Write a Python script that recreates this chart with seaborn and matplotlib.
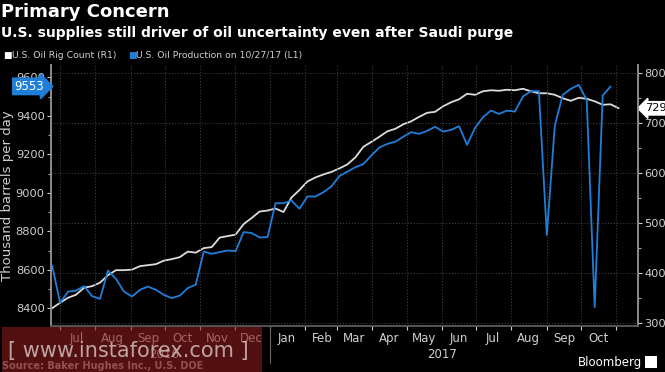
import numpy as np
import pandas as pd
import seaborn as sns
import matplotlib.pyplot as plt
import matplotlib.dates as mdates
import matplotlib.transforms as mtrans
from matplotlib.patches import Rectangle

# datos semanales (viernes)
semanas = pd.date_range('2016-06-24', periods=72, freq='7D')

# U.S. Oil Rig Count (R1)
rigs = [330, 341, 351, 357, 371, 374, 381, 396, 406, 406,
        407, 414, 416, 418, 425, 428, 432, 443, 441, 450,
        452, 471, 474, 477, 498, 510, 523, 525, 529, 522,
        551, 566, 583, 591, 597, 602, 609, 617, 631, 652,
        662, 672, 683, 688, 697, 703, 712, 720, 722, 733,
        741, 747, 758, 756, 763, 765, 764, 766, 765, 768,
        763, 759, 759, 756, 749, 744, 750, 748, 743, 736,
        737, 729]

# U.S. Oil Production (L1), miles de barriles por dia
produccion = [8622, 8428, 8487, 8492, 8515, 8463, 8449, 8596, 8553, 8487,
              8461, 8496, 8513, 8496, 8470, 8453, 8466, 8505, 8523, 8695,
              8683, 8692, 8700, 8697, 8796, 8791, 8768, 8770, 8946, 8946,
              8960, 8917, 8981, 8981, 9003, 9033, 9087, 9110, 9133, 9149,
              9194, 9235, 9254, 9265, 9291, 9315, 9306, 9322, 9343, 9318,
              9327, 9346, 9249, 9337, 9393, 9427, 9410, 9427, 9422, 9500,
              9528, 9528, 8781, 9349, 9509, 9540, 9561, 9483, 8406, 9505,
              9553]

ticks_izq = [8400, 8600, 8800, 9000, 9200, 9400, 9600]
ticks_der = [300, 400, 500, 600, 700, 800]
meses = pd.date_range('2016-07-01', '2017-10-01', freq='MS')

df_rigs = pd.DataFrame({'fecha': semanas, 'rigs': rigs})
df_prod = pd.DataFrame({'fecha': semanas[:len(produccion)], 'prod': produccion})

blanco = '#dcdcdc'
azul = '#1f7fd8'
gris = '#cfcfcf'
grid = '#3c3c3c'

sns.set_theme(style='dark', rc={
    'figure.facecolor': 'black', 'axes.facecolor': 'black',
    'axes.edgecolor': '#8a8a8a', 'text.color': gris,
    'xtick.color': gris, 'ytick.color': gris, 'axes.labelcolor': gris,
})
plt.rcParams['font.family'] = ['DejaVu Sans']

fig = plt.figure(figsize=(6.65, 3.72), dpi=100)
ax = fig.add_axes([51 / 665, 46 / 372, 587 / 665, 261 / 372])
ax2 = ax.twinx()

sns.lineplot(data=df_prod, x='fecha', y='prod', ax=ax, color=azul, linewidth=1.3)
sns.lineplot(data=df_rigs, x='fecha', y='rigs', ax=ax2, color=blanco, linewidth=1.3)

ax.set_ylim(8308, 9664)
ax2.set_ylim(294.6, 815.4)
ax.set_xlim(pd.Timestamp('2016-06-23'), pd.Timestamp('2017-11-20'))

# eje izquierdo
ax.set_yticks(ticks_izq)
ax.set_yticks(np.arange(8400, 9700, 100), minor=True)
ax.tick_params(axis='y', which='major', direction='out', length=3, width=0.8,
               labelsize=8.2, pad=1.5, left=True, colors=gris)
ax.tick_params(axis='y', which='minor', direction='out', length=2, width=0.6, left=True)
ax.set_ylabel('Thousand barrels per day', fontsize=9.5, labelpad=1)
ax.yaxis.grid(False)

# eje derecho
ax2.set_yticks(ticks_der)
ax2.set_yticks(np.arange(300, 850, 50), minor=True)
ax2.tick_params(axis='y', which='major', direction='out', length=3, width=0.8,
                labelsize=8.2, pad=1.5, right=True, colors=gris)
ax2.tick_params(axis='y', which='minor', direction='out', length=2, width=0.6, right=True)
ax2.set_ylabel('')
ax2.yaxis.grid(True, color=grid, linestyle=':', linewidth=0.8)
ax2.set_zorder(ax.get_zorder() - 1)
ax.patch.set_visible(False)

# eje x: marcas al inicio de mes, etiquetas a mitad de mes
ax.xaxis.set_major_locator(mdates.MonthLocator(bymonthday=1))
ax.xaxis.set_major_formatter(plt.NullFormatter())
ax.set_xticks(meses + pd.Timedelta(days=15), minor=True)
ax.xaxis.set_minor_formatter(mdates.DateFormatter('%b'))
ax.tick_params(axis='x', which='major', direction='out', length=3, width=0.8, bottom=True)
ax.tick_params(axis='x', which='minor', length=0, labelsize=8.5, pad=4, colors=gris)
ax.xaxis.grid(True, which='major', color=grid, linestyle=':', linewidth=0.8)
ax.set_xlabel('')

for a in (ax, ax2):
    a.spines['top'].set_visible(False)
    a.spines['bottom'].set_color('#555555')
    a.spines['left'].set_color('#8a8a8a')
    a.spines['right'].set_color('#8a8a8a')

# etiquetas de ano y separador
tr = mtrans.blended_transform_factory(ax.transData, ax.transAxes)
ax.text(pd.Timestamp('2016-09-30'), -0.085, '2016', transform=tr, ha='center',
        va='top', fontsize=8.5, color=gris)
ax.text(pd.Timestamp('2017-06-01'), -0.085, '2017', transform=tr, ha='center',
        va='top', fontsize=8.5, color=gris)
sep = pd.Timestamp('2017-01-01')
ax.plot([sep, sep], [0, -0.14], transform=tr, color='#666666', lw=0.8, clip_on=False)

# etiquetas de ultimo valor
ax.annotate(f'{produccion[-1]}', xy=(0, produccion[-1]),
            xycoords=('axes fraction', 'data'), xytext=(-5, 0),
            textcoords='offset points', ha='right', va='center', fontsize=8.5,
            color='white',
            bbox=dict(boxstyle='rarrow,pad=0.15', fc=azul, ec=azul))
ax2.annotate(f'{rigs[-1]}', xy=(1, rigs[-1]),
             xycoords=('axes fraction', 'data'), xytext=(5, 0),
             textcoords='offset points', ha='left', va='center', fontsize=8.2,
             color='black',
             bbox=dict(boxstyle='larrow,pad=0.15', fc='white', ec='white'))

# titulos y leyenda
fig.text(0.002, 0.968, 'Primary Concern', fontsize=13, fontweight='bold',
         color='white', va='center', ha='left')
fig.text(0.002, 0.911, 'U.S. supplies still driver of oil uncertainty even after Saudi purge',
         fontsize=10, fontweight='bold', color='white', va='center', ha='left')
fig.text(0.005, 0.85, '\u25a0', fontsize=6.5, color='white', va='center')
fig.text(0.018, 0.85, 'U.S. Oil Rig Count (R1)', fontsize=6.7, color=gris, va='center')
fig.text(0.192, 0.85, '\u25a0', fontsize=6.5, color=azul, va='center')
fig.text(0.205, 0.85, 'U.S. Oil Production on 10/27/17 (L1)', fontsize=6.7,
         color=gris, va='center')

# pie
fig.text(0.003, 0.017, 'Source: Baker Hughes Inc., U.S. DOE', fontsize=7,
         fontweight='bold', color='#a0a0a0', va='center')
fig.text(0.965, 0.025, 'Bloomberg', fontsize=8.5, color='white', va='center', ha='right')
fig.patches.append(Rectangle((0.97, 0.01), 0.018, 0.032, transform=fig.transFigure,
                             fc='white', ec='none'))

# marca de agua
fig.patches.append(Rectangle((2 / 665, 0), 260 / 665, 45 / 372, transform=fig.transFigure,
                             fc='#8b1c1c', ec='none', alpha=0.6, zorder=5))
fig.text(128 / 665, 21 / 372, '[ www.instaforex.com ]', fontsize=15, color='#d8c8c8',
         alpha=0.8, ha='center', va='center', zorder=6)

fig.savefig('out.png', dpi=100, facecolor='black')
